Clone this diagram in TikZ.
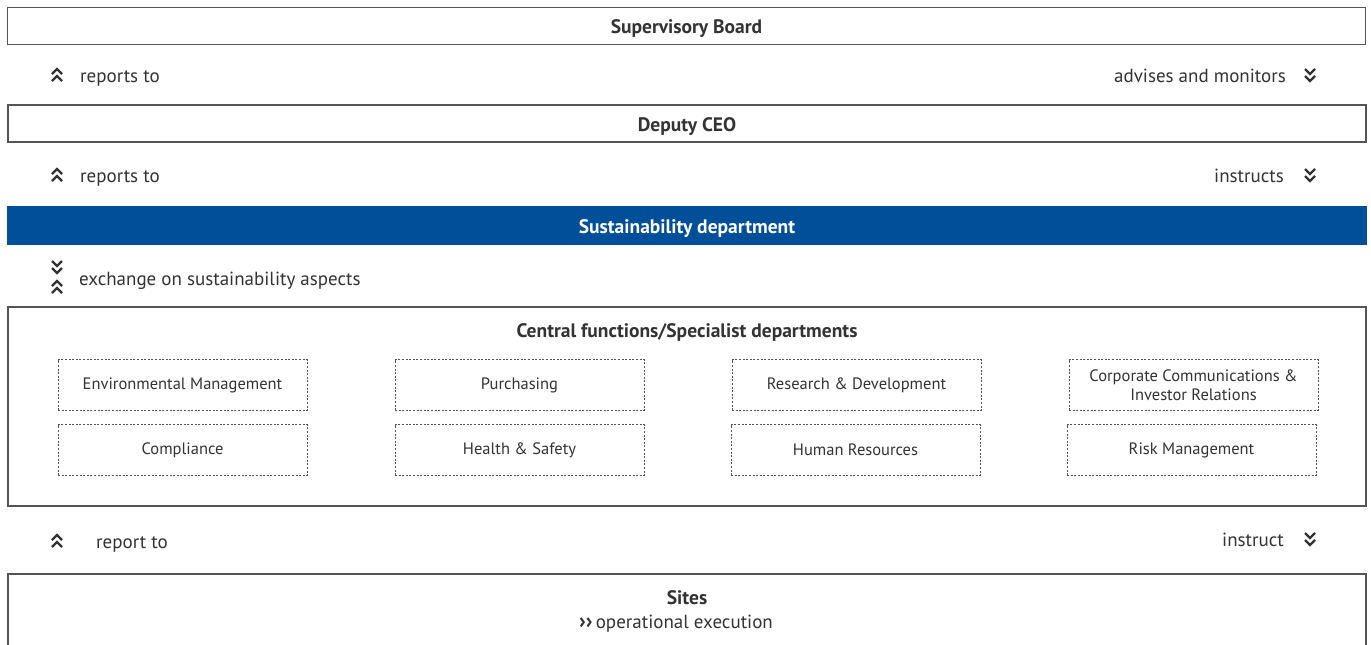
\documentclass[tikz,border=0pt]{standalone}
\usepackage{fontspec}
\setmainfont{PT Sans}
\usetikzlibrary{positioning,calc}
\definecolor{Ink}{HTML}{333333}
\definecolor{Frame}{HTML}{555555}
\definecolor{SusBlue}{HTML}{004F98}
\tikzset{
  level/.style={draw=Frame,line width=1.2pt,minimum width=1358pt,minimum height=37pt,
    inner sep=0pt,font=\fontsize{19.5}{22}\selectfont\bfseries,text=Ink,text height=16pt,text depth=0pt},
  dept/.style={draw=Frame,line width=.8pt,dash pattern=on 2pt off 1.6pt,minimum width=249pt,
    minimum height=51pt,inner sep=2pt,align=center,font=\fontsize{16.5}{19}\selectfont,text=Ink},
  lbl/.style={font=\fontsize{19}{22}\selectfont,text=Ink,inner sep=0pt,text height=15pt,text depth=0pt},
  chevup/.pic={\draw[Ink,line width=2.2pt] (-5,-1)--(0,-6)--(5,-1) (-5,6)--(0,1)--(5,6);},
  chevdown/.pic={\draw[Ink,line width=2.2pt] (-5,-6)--(0,-1)--(5,-6) (-5,1)--(0,6)--(5,1);},
}
\begin{document}
\begin{tikzpicture}[x=1pt,y=-1pt]
  \useasboundingbox[fill=white] (0,0) rectangle (1371,645);
  % levels
  \node[level] (board) at (686.5,26) {Supervisory Board};
  \node[level] (deputy) at (687,123.5) {Deputy CEO};
  \node[level,fill=SusBlue,draw=SusBlue,text=white] (sust) at (687,225.5) {Sustainability department};
  \node[level,minimum height=199pt] (central) at (687,406.5) {};
  \node[lbl,font=\fontsize{19.5}{22}\selectfont\bfseries] (ctitle) at (687,330) {Central functions/Specialist departments};
  \node[level,minimum height=120pt] (sites) at (687,634) {};
  \node[lbl,font=\fontsize{19.5}{22}\selectfont\bfseries] (stitle) at (687,597) {Sites};
  \node[lbl] (exec) at (676,621) {{\fontsize{22}{22}\selectfont\bfseries››}\,operational execution};
  % departments
  \foreach \xx/\name/\txt in {182.5/env/Environmental Management,519.5/pur/Purchasing,
      856.5/rnd/Research \& Development,1193.5/ccir/{Corporate Communications \&\\Investor Relations}}
    \node[dept] (\name) at (\xx,385) {\txt};
  \foreach \xx/\name/\txt in {182.5/comp/Compliance,519.5/hs/Health \& Safety,
      855.5/hr/Human Resources,1191.5/risk/Risk Management}
    \node[dept] (\name) at (\xx,450) {\txt};
  % relations
  \pic at (57,75) {chevup};
  \node[lbl,anchor=west] (rep1) at (80,75) {reports to};
  \node[lbl,anchor=east] (adv) at (1286,75) {advises and monitors};
  \pic at (1310,75) {chevdown};
  \pic at (57,175) {chevup};
  \node[lbl,anchor=west] (rep2) at (80,175) {reports to};
  \node[lbl,anchor=east] (inst1) at (1284,175) {instructs};
  \pic at (1310,175) {chevdown};
  \pic at (57,267) {chevdown};
  \pic at (57,287) {chevup};
  \node[lbl,anchor=west] (exch) at (79,278) {exchange on sustainability aspects};
  \pic at (57,541) {chevup};
  \node[lbl,anchor=west] (rep3) at (96,541) {report to};
  \node[lbl,anchor=east] (inst2) at (1284,539) {instruct};
  \pic at (1310,539) {chevdown};
\end{tikzpicture}
\end{document}
